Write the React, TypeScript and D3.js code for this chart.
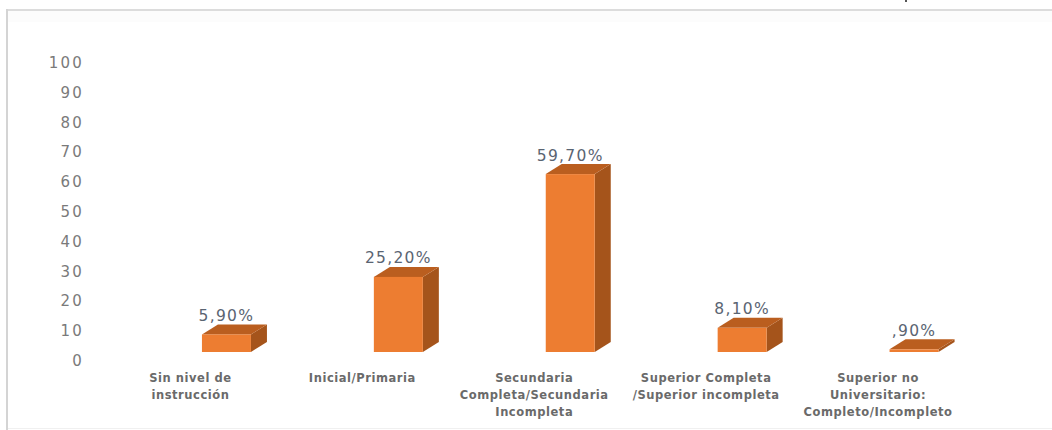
import React from "react";
import * as d3 from "d3";

const categories = [
  ["Sin nivel de", "instrucción"],
  ["Inicial/Primaria"],
  ["Secundaria", "Completa/Secundaria", "Incompleta"],
  ["Superior Completa", "/Superior incompleta"],
  ["Superior no", "Universitario:", "Completo/Incompleto"],
];
const values = [5.9, 25.2, 59.7, 8.1, 0.9];
const valueLabels = ["5,90%", "25,20%", "59,70%", "8,10%", ",90%"];
const yTicks = [0, 10, 20, 30, 40, 50, 60, 70, 80, 90, 100];

const WIDTH = 1052;
const HEIGHT = 430;
const FLOOR_LIFT = 8; // the 3D floor sits above the zero tick label
const DEPTH_X = 16;
const DEPTH_Y = 10;
const BAR_WIDTH = 49;

const FONT = "'DejaVu Sans', sans-serif";
const FRONT = "#ED7D31";
const TOP = "#BA5E1F";
const SIDE = "#A5541B";

export default function App() {
  const y = d3.scaleLinear().domain([0, 100]).range([360, 62]);
  const x = d3
    .scaleBand<number>()
    .domain(d3.range(values.length))
    .range([140.5, 1000]);

  const poly = (pts: [number, number][]) => (d3.line()(pts) ?? "") + "Z";

  return (
    <svg
      width={WIDTH}
      height={HEIGHT}
      viewBox={`0 0 ${WIDTH} ${HEIGHT}`}
      style={{ position: "absolute", left: 0, top: 0, background: "#fff" }}
    >
      {/* outer frame: only the top, left and bottom edges show */}
      <rect x={8} y={11} width={WIDTH - 8} height={11} fill="#fcfcfc" />
      <rect x={6} y={9} width={WIDTH - 6} height={2} fill="#dcdcdc" />
      <rect x={6} y={9} width={2} height={HEIGHT - 9} fill="#d4d4d4" />
      <rect x={8} y={428} width={WIDTH - 8} height={1} fill="#f0f0f0" />
      <rect x={905} y={0} width={2} height={2} fill="#555" />

      {yTicks.map((t) => (
        <text
          key={t}
          x={84}
          y={y(t) + 0.5}
          dy="0.36em"
          textAnchor="end"
          fontFamily={FONT}
          fontSize={15}
          letterSpacing={2.2}
          fill="#7a7a7a"
        >
          {t}
        </text>
      ))}

      {values.map((v, i) => {
        const cx = x(i)! + x.bandwidth() / 2;
        const left = cx - BAR_WIDTH / 2;
        const right = cx + BAR_WIDTH / 2;
        const base = y(0) - FLOOR_LIFT;
        const top = y(v) - FLOOR_LIFT;
        return (
          <g key={i}>
            <path
              d={poly([
                [right, base],
                [right + DEPTH_X, base - DEPTH_Y],
                [right + DEPTH_X, top - DEPTH_Y],
                [right, top],
              ])}
              fill={SIDE}
            />
            <path
              d={poly([
                [left, top],
                [left + DEPTH_X, top - DEPTH_Y],
                [right + DEPTH_X, top - DEPTH_Y],
                [right, top],
              ])}
              fill={TOP}
            />
            <rect x={left} y={top} width={BAR_WIDTH} height={base - top} fill={FRONT} />
            <text
              x={cx}
              y={top - 19}
              dy="0.36em"
              textAnchor="middle"
              fontFamily={FONT}
              fontSize={15.5}
              letterSpacing={1.3}
              fill="#5a6472"
            >
              {valueLabels[i]}
            </text>
            <text
              textAnchor="middle"
              fontFamily={FONT}
              fontSize={11.5}
              fontWeight="bold"
              letterSpacing={0.55}
              fill="#6a6a6a"
            >
              {categories[i].map((line, j) => (
                <tspan key={j} x={cx - 36} y={378 + j * 16.8} dy="0.36em">
                  {line}
                </tspan>
              ))}
            </text>
          </g>
        );
      })}
    </svg>
  );
}
